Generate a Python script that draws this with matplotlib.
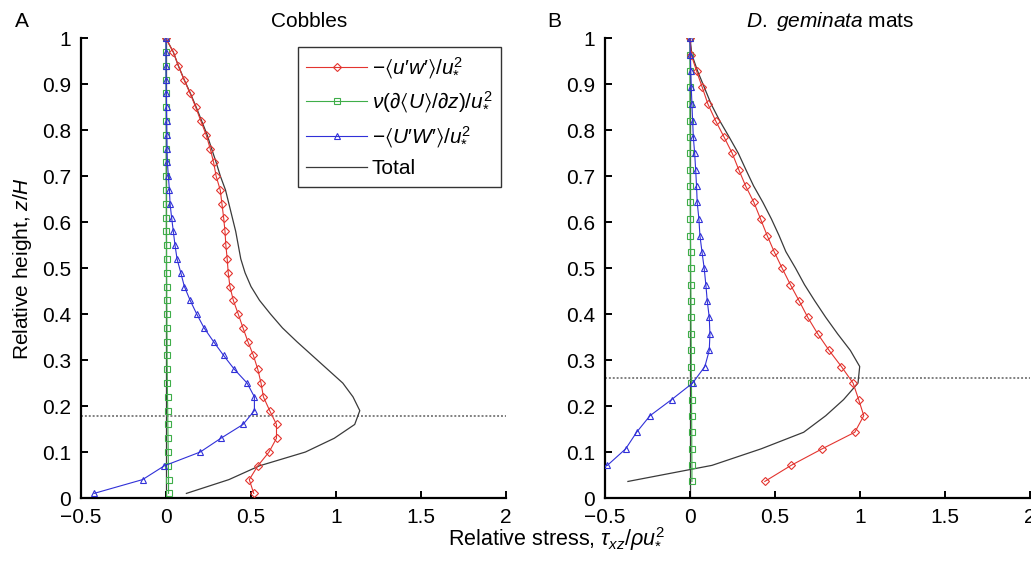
import matplotlib
matplotlib.use("Agg")
import matplotlib.pyplot as plt
from matplotlib.lines import Line2D

plt.rcParams['font.family'] = ['Liberation Sans', 'DejaVu Sans']
plt.rcParams['mathtext.fontset'] = 'custom'
plt.rcParams['mathtext.rm'] = 'Liberation Sans'
plt.rcParams['mathtext.it'] = 'Liberation Sans:italic'
plt.rcParams['mathtext.bf'] = 'Liberation Sans:bold'
plt.rcParams['mathtext.sf'] = 'Liberation Sans'
plt.rcParams['mathtext.fallback'] = 'stixsans'

# ---------------- Panel A: cobbles ----------------
z_cob = [0.01, 0.04, 0.07, 0.10, 0.13, 0.16, 0.19, 0.22, 0.25, 0.28, 0.31, 0.34,
         0.37, 0.40, 0.43, 0.46, 0.49, 0.52, 0.55, 0.58, 0.61, 0.64, 0.67, 0.70,
         0.73, 0.76, 0.79, 0.82, 0.85, 0.88, 0.91, 0.94, 0.97, 1.00]
turb_cob = [0.516, 0.49, 0.54, 0.606, 0.65, 0.65, 0.61, 0.573, 0.559, 0.54, 0.514, 0.482,
            0.453, 0.425, 0.396, 0.376, 0.366, 0.36, 0.352, 0.347, 0.339, 0.329, 0.319, 0.295,
            0.28, 0.26, 0.236, 0.205, 0.175, 0.142, 0.106, 0.073, 0.043, 0.0]
visc_cob = [0.015, 0.015, 0.014, 0.013, 0.012, 0.011, 0.010, 0.009, 0.008, 0.007, 0.006, 0.006,
            0.005, 0.005, 0.004, 0.004, 0.003, 0.003, 0.003, 0.002, 0.002, 0.002, 0.002, 0.001,
            0.001, 0.001, 0.001, 0.0, 0.0, 0.0, 0.0, 0.0, 0.0, 0.0]
disp_cob = [-0.423, -0.138, -0.01, 0.201, 0.323, 0.453, 0.52, 0.52, 0.477, 0.402, 0.339, 0.28,
            0.224, 0.181, 0.142, 0.108, 0.087, 0.065, 0.053, 0.043, 0.033, 0.024, 0.02, 0.014,
            0.008, 0.006, 0.005, 0.004, 0.003, 0.002, 0.001, 0.0, 0.0, 0.0]
total_cob = [0.12, 0.37, 0.55, 0.82, 0.99, 1.11, 1.14, 1.10, 1.04, 0.95, 0.86, 0.77,
             0.685, 0.615, 0.55, 0.50, 0.465, 0.44, 0.425, 0.41, 0.39, 0.37, 0.35, 0.32,
             0.295, 0.268, 0.242, 0.21, 0.178, 0.144, 0.107, 0.073, 0.043, 0.0]
canopy_cob = 0.178

# ---------------- Panel B: D. geminata mats ----------------
z_mat = [0.036, 0.071, 0.107, 0.143, 0.179, 0.214, 0.250, 0.286, 0.321, 0.357, 0.393, 0.429,
         0.464, 0.500, 0.536, 0.571, 0.607, 0.643, 0.679, 0.714, 0.750, 0.786, 0.821, 0.857,
         0.893, 0.929, 0.964, 1.000]
turb_mat = [0.441, 0.596, 0.779, 0.971, 1.024, 0.994, 0.961, 0.892, 0.82, 0.753, 0.694, 0.643,
            0.592, 0.543, 0.496, 0.455, 0.416, 0.377, 0.328, 0.288, 0.249, 0.2, 0.151, 0.106,
            0.073, 0.039, 0.008, 0.0]
visc_mat = [0.012, 0.012, 0.011, 0.011, 0.010, 0.010, 0.009, 0.008, 0.008, 0.007, 0.006, 0.006,
            0.005, 0.004, 0.004, 0.003, 0.003, 0.002, 0.002, 0.001, 0.001, 0.001, 0.0, 0.0,
            0.0, 0.0, 0.0, 0.0]
disp_mat = [-0.82, -0.486, -0.378, -0.314, -0.235, -0.108, 0.016, 0.088, 0.114, 0.118, 0.114, 0.102,
            0.094, 0.084, 0.071, 0.059, 0.053, 0.043, 0.039, 0.034, 0.028, 0.02, 0.016, 0.012,
            0.008, 0.005, 0.002, 0.0]
total_mat = [-0.365, 0.13, 0.42, 0.67, 0.80, 0.905, 0.99, 1.0, 0.945, 0.87, 0.80, 0.735,
             0.675, 0.622, 0.565, 0.525, 0.48, 0.43, 0.375, 0.33, 0.285, 0.23, 0.175, 0.125,
             0.085, 0.045, 0.012, 0.0]
canopy_mat = 0.262

x_ticks = [-0.5, 0, 0.5, 1, 1.5, 2]
x_ticklabels = ['\u22120.5', '0', '0.5', '1', '1.5', '2']
y_ticks = [0, 0.1, 0.2, 0.3, 0.4, 0.5, 0.6, 0.7, 0.8, 0.9, 1]
y_ticklabels = ['0', '0.1', '0.2', '0.3', '0.4', '0.5', '0.6', '0.7', '0.8', '0.9', '1']

series_labels = ['$-\\langle u\u2032w\u2032\\rangle/u_{*}^{2}$',
                 r'$\nu(\partial\langle U\rangle/\partial z)/u_{*}^{2}$',
                 '$-\\langle U\u2032W\u2032\\rangle/u_{*}^{2}$',
                 'Total']

RED = '#e3342f'
GREEN = '#3fae49'
BLUE = '#3030d8'
DARK = '#3a3a3a'
FS = 15

W, H = 1031, 563
fig = plt.figure(figsize=(W / 100, H / 100), dpi=100)

def px_box(x0, y0, x1, y1):
    return [x0 / W, 1 - y1 / H, (x1 - x0) / W, (y1 - y0) / H]

axA = fig.add_axes(px_box(81, 38.3, 506, 498))
axB = fig.add_axes(px_box(605, 38.3, 1029.5, 498))

MK = dict(
    turb=dict(color=RED, lw=0.8, marker='D', ms=4.0, mfc='none', mew=0.8),
    visc=dict(color=GREEN, lw=0.8, marker='s', ms=4.0, mfc='none', mew=0.8),
    disp=dict(color=BLUE, lw=0.8, marker='^', ms=5.0, mfc='none', mew=0.8),
    total=dict(color=DARK, lw=0.9),
)

def draw(ax, z, turb, visc, disp, total, canopy):
    ax.axvline(0, color=DARK, lw=0.9, zorder=1)
    ax.axhline(canopy, color='0.5', lw=1.4, ls=(0, (1, 1)), zorder=1)
    ax.plot(total, z, zorder=2, **MK['total'])
    ax.plot(visc, z, zorder=3, **MK['visc'])
    ax.plot(turb, z, zorder=4, **MK['turb'])
    ax.plot(disp, z, zorder=5, **MK['disp'])
    ax.set_xlim(-0.5, 2)
    ax.set_ylim(0, 1)
    ax.set_xticks(x_ticks)
    ax.set_xticklabels(x_ticklabels)
    ax.set_yticks(y_ticks)
    ax.set_yticklabels(y_ticklabels)
    for s in ('top', 'right'):
        ax.spines[s].set_visible(False)
    for s in ('left', 'bottom'):
        ax.spines[s].set_linewidth(1.6)
    ax.tick_params(direction='in', length=5, width=1.4, labelsize=FS, pad=7)

draw(axA, z_cob, turb_cob, visc_cob, disp_cob, total_cob, canopy_cob)
draw(axB, z_mat, turb_mat, visc_mat, disp_mat, total_mat, canopy_mat)

axA.set_ylabel(r'Relative height, $z/H$', fontsize=FS, labelpad=6)

handles = [Line2D([], [], **MK[k]) for k in ('turb', 'visc', 'disp', 'total')]
leg = axA.legend(handles, series_labels, loc='upper left',
                 bbox_to_anchor=(298 / W, 1 - 47 / H), bbox_transform=fig.transFigure,
                 fontsize=FS, numpoints=1, handlelength=2.9, handletextpad=0.25,
                 borderaxespad=0, borderpad=0.4, labelspacing=0.45,
                 frameon=True, fancybox=False, edgecolor='black')
leg.get_frame().set_linewidth(1.0)

fig.text(309 / W, 1 - 27 / H, 'Cobbles', ha='center', va='baseline', fontsize=FS)
fig.text(830 / W, 1 - 27 / H, r'$\mathit{D.\ geminata}$ mats', ha='center', va='baseline', fontsize=FS)
fig.text(15 / W, 1 - 27 / H, 'A', ha='left', va='baseline', fontsize=FS)
fig.text(547 / W, 1 - 27 / H, 'B', ha='left', va='baseline', fontsize=FS)
fig.text(557 / W, 1 - 545 / H, r'Relative stress, $\tau_{xz}/\rho u_{*}^{2}$',
         ha='center', va='baseline', fontsize=15.5)

fig.savefig('out.png', dpi=100)
